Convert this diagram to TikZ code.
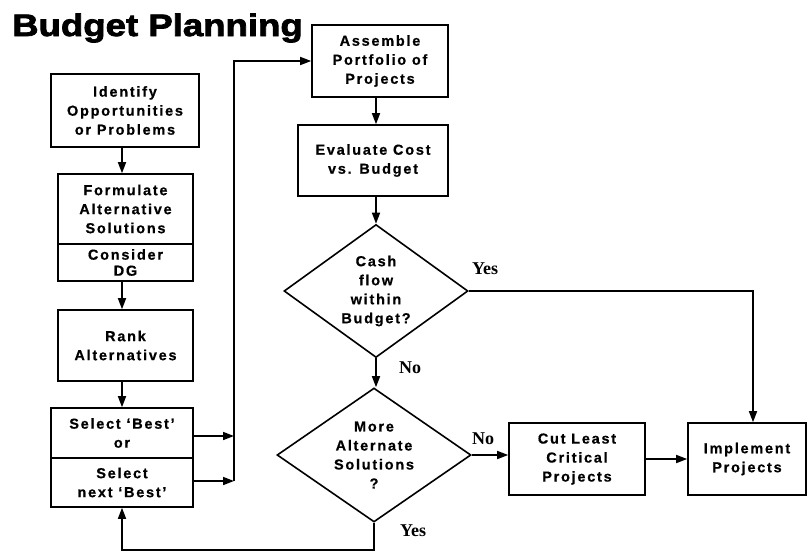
\documentclass[tikz,border=0pt]{standalone}
\usepackage{fontspec}
\setmainfont{Liberation Sans}
\newfontfamily\titlefont[BoldFeatures={FakeStretch=1.18,FakeBold=2.5}]{Liberation Sans}
\newfontfamily\boxfont[BoldFeatures={LetterSpace=12,FakeBold=0.6}]{Liberation Sans}
\newfontfamily\answerfont{Liberation Serif}
\usetikzlibrary{shapes.geometric,arrows.meta}

\newcommand{\boxtext}{\boxfont\bfseries\fontsize{14.5}{19}\selectfont}
\newcommand{\answertext}{\answerfont\bfseries\fontsize{18}{20}\selectfont}

\tikzset{
  stepbox/.style={draw, line width=1.6pt, align=center, inner sep=0pt, font=\boxtext},
  decision/.style={draw, diamond, line width=1.6pt, inner sep=0pt},
  dtext/.style={align=center, font=\boxtext, inner sep=0pt},
  answer/.style={font=\answertext, inner sep=0pt},
  flow/.style={line width=1.6pt, -{Triangle[length=11pt,width=8pt]}},
  wire/.style={line width=1.6pt}
}

\begin{document}
\begin{tikzpicture}[x=1pt,y=-1pt]
\useasboundingbox (0,0) rectangle (810,554);

% title
\node[anchor=base west, inner sep=0pt, font=\titlefont\bfseries\fontsize{31}{36}\selectfont] (title) at (12,36) {Budget Planning};

% left column
\node[stepbox, minimum width=148pt, minimum height=73pt] (ident) at (125,110.5) {Identify\\Opportunities\\or Problems};
\node[stepbox, minimum width=135pt, minimum height=70pt] (form) at (125.5,209) {Formulate\\Alternative\\Solutions};
\node[stepbox, minimum width=135pt, minimum height=37pt, font=\boxfont\bfseries\fontsize{14.5}{16}\selectfont] (cons) at (125.5,262.5) {Consider\\DG};
\node[stepbox, minimum width=135pt, minimum height=71pt] (rank) at (125.5,345.5) {Rank\\Alternatives};
\node[stepbox, minimum width=142pt, minimum height=50pt] (sel1) at (122,433) {Select ‘Best’\\or};
\node[stepbox, minimum width=142pt, minimum height=49pt] (sel2) at (122,482.5) {Select\\next ‘Best’};

% middle column
\node[stepbox, minimum width=136pt, minimum height=72pt] (asm) at (380,61) {Assemble\\Portfolio of\\Projects};
\node[stepbox, minimum width=150pt, minimum height=71pt] (eval) at (373,160.5) {Evaluate Cost\\vs. Budget};
\node[decision, minimum width=184pt, minimum height=133pt] (d1) at (376,291) {};
\node[dtext] (d1t) at (d1) {Cash\\flow\\within\\Budget?};
\node[decision, minimum width=194pt, minimum height=134pt] (d2) at (374,455) {};
\node[dtext] (d2t) at (d2) {More\\Alternate\\Solutions\\?};

% right side
\node[stepbox, minimum width=136pt, minimum height=72pt] (cut) at (577,459) {Cut Least\\Critical\\Projects};
\node[stepbox, minimum width=118pt, minimum height=72pt] (impl) at (747,459) {Implement\\Projects};

% routing points
\coordinate (bus1) at (234,436);
\coordinate (bus2) at (234,481);
\coordinate (bustop) at (234,61);
\coordinate (yescorner) at (753,291);
\coordinate (loop) at (376,550);

% connectors, left column
\draw[flow] (ident.south -| sel1) -- (form.north -| sel1);
\draw[flow] (cons.south -| sel1) -- (rank.north -| sel1);
\draw[flow] (rank.south -| sel1) -- (sel1.north);
\draw[flow] (sel1.east |- bus1) -- (bus1);
\draw[flow] (sel2.east |- bus2) -- (bus2);
\draw[flow] (bus2) -- (bustop) -- (asm.west);

% connectors, middle column
\draw[flow] (d1.north |- asm.south) -- (d1.north |- eval.north);
\draw[flow] (d1.north |- eval.south) -- (d1.north);
\draw[flow] (d1.south) -- (d2.north -| d1.south);
\draw[flow] (d1.east) -- (yescorner) -- (impl.north -| yescorner);
\draw[flow] (d2.east) -- (cut.west |- d2.east);
\draw[flow] (cut.east) -- (impl.west);
\draw[flow] (d2.south) -- (d2.south |- loop) -- (sel2.south |- loop) -- (sel2.south);

% answers
\node[answer] (yes1) at (485,269) {Yes};
\node[answer] (no1) at (410,368) {No};
\node[answer] (no2) at (483,439) {No};
\node[answer] (yes2) at (413,531) {Yes};
\end{tikzpicture}
\end{document}
